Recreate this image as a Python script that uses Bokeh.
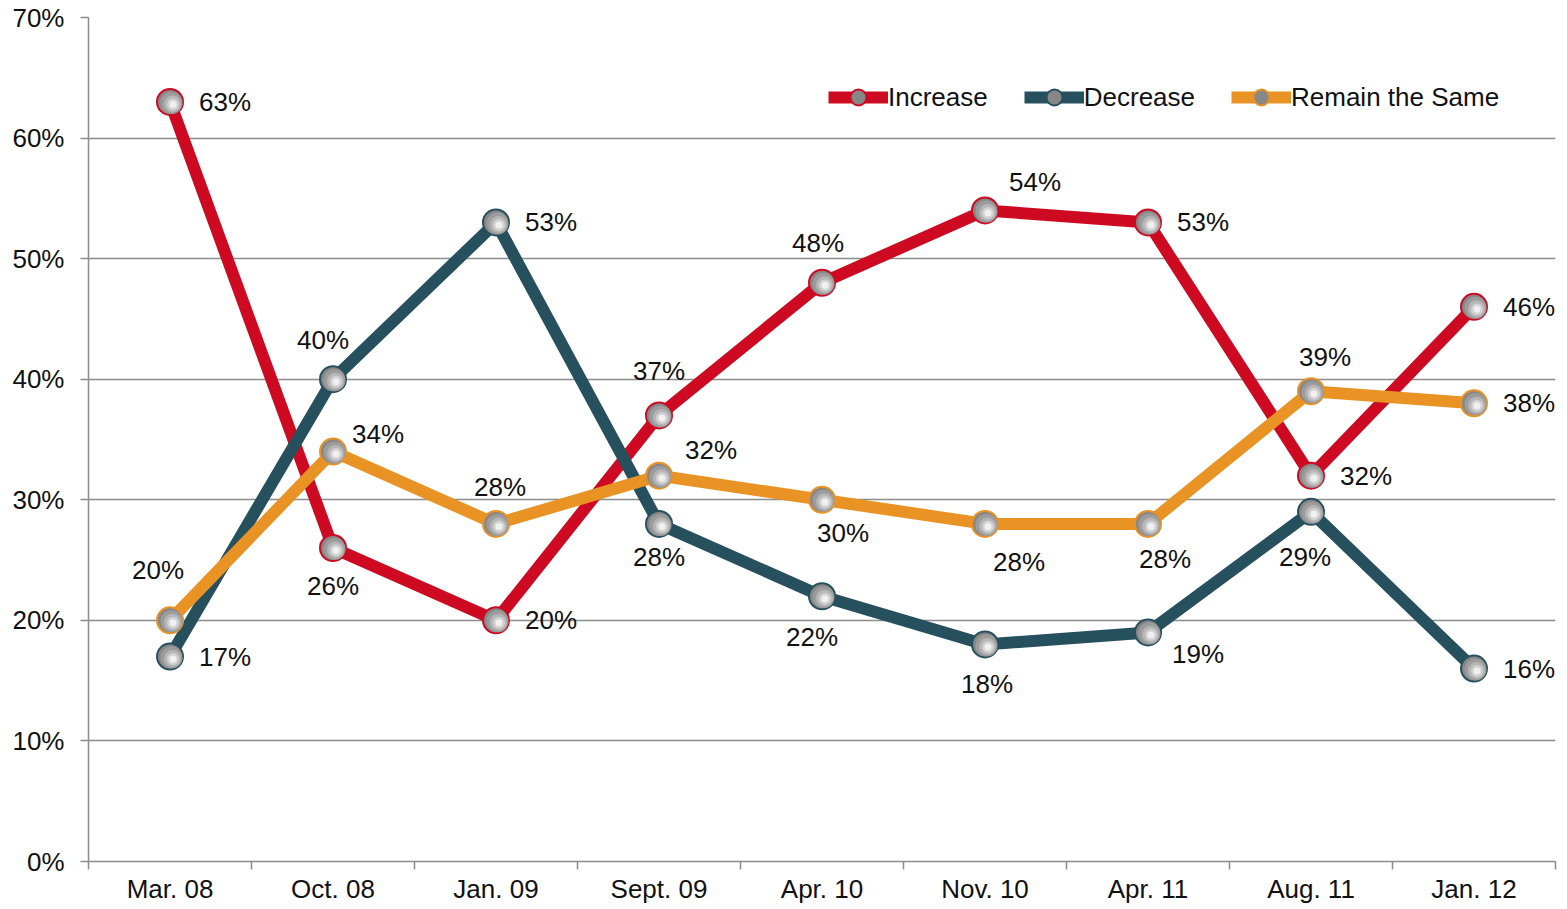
from bokeh.plotting import figure
from bokeh.models import (ColumnDataSource, FixedTicker, PrintfTickFormatter, Legend, LegendItem, Range1d)
from bokeh.transform import dodge
from bokeh.embed import file_html
from bokeh.resources import INLINE
from bokeh.core.properties import value

categories = ["Mar. 08", "Oct. 08", "Jan. 09", "Sept. 09", "Apr. 10", "Nov. 10", "Apr. 11", "Aug. 11", "Jan. 12"]
increase = [63, 26, 20, 37, 48, 54, 53, 32, 46]
decrease = [17, 40, 53, 28, 22, 18, 19, 29, 16]
remain = [20, 34, 28, 32, 30, 28, 28, 39, 38]
y_ticks = [0, 10, 20, 30, 40, 50, 60, 70]

series_names = ["Increase", "Decrease", "Remain the Same"]
series_values = [increase, decrease, remain]
colors = ["#CE0A22", "#27505F", "#E99325"]

# label offsets in screen px (dx, dy) per point
label_offsets = [
    [(55, 0), (0, 38), (55, 0), (0, -44), (-4, -40), (50, -28), (55, 0), (55, 0), (55, 0)],
    [(55, 0), (-10, -39), (55, 0), (0, 33), (-10, 41), (2, 40), (50, 22), (-6, 45), (55, 0)],
    [(-12, -50), (45, -18), (4, -37), (52, -26), (21, 33), (34, 38), (17, 35), (14, -34), (55, 0)],
]

FONT = "Liberation Sans"
FS = "26px"

BL, BR, BT, BB = 88, 4, 17, 44
W, H = 1559, 906
p = figure(width=W, height=H, output_backend="svg", toolbar_location=None,
           x_range=Range1d(0, len(categories)), y_range=Range1d(0, 70),
           min_border_left=BL, min_border_right=BR, min_border_top=BT, min_border_bottom=BB)
p.outline_line_color = None
p.background_fill_color = "white"
p.border_fill_color = "white"

frame_w = W - BL - BR
frame_h = H - BT - BB
px_x = len(categories) / frame_w
px_y = 70 / frame_h

xs = [i + 0.5 for i in range(len(categories))]

# axes
p.xaxis.ticker = FixedTicker(ticks=xs, minor_ticks=list(range(len(categories) + 1)))
p.xaxis.major_label_overrides = {x: c for x, c in zip(xs, categories)}
p.xaxis.major_tick_line_color = None
p.xaxis.major_tick_out = 0
p.xaxis.major_tick_in = 0
p.xaxis.minor_tick_out = 8
p.xaxis.minor_tick_in = 0
p.xaxis.minor_tick_line_color = "#8c8c8c"
p.xaxis.minor_tick_line_width = 1.5
p.xaxis.axis_line_color = "#8c8c8c"
p.xaxis.axis_line_width = 1.5
p.xaxis.major_label_standoff = 4
p.xaxis.major_label_text_font = FONT
p.xaxis.major_label_text_font_size = FS
p.xaxis.major_label_text_color = "#111111"

p.yaxis.ticker = FixedTicker(ticks=y_ticks)
p.yaxis.formatter = PrintfTickFormatter(format="%d%%")
p.yaxis.major_tick_out = 8
p.yaxis.major_tick_in = 0
p.yaxis.minor_tick_line_color = None
p.yaxis.major_tick_line_color = "#8c8c8c"
p.yaxis.major_tick_line_width = 1.5
p.yaxis.axis_line_color = "#8c8c8c"
p.yaxis.axis_line_width = 1.5
p.yaxis.major_label_standoff = 16
p.yaxis.major_label_text_font = FONT
p.yaxis.major_label_text_font_size = FS
p.yaxis.major_label_text_color = "#111111"

p.xgrid.grid_line_color = None
p.ygrid.grid_line_color = "#8c8c8c"
p.ygrid.grid_line_width = 1.5

legend_items = []
line_renderers = []
for name, vals, col in zip(series_names, series_values, colors):
    src = ColumnDataSource(dict(x=xs, y=vals))
    lr = p.line("x", "y", source=src, line_color=col, line_width=12, line_join="round")
    line_renderers.append((name, col, src, lr))

for name, col, src, lr in line_renderers:
    base = p.scatter("x", "y", source=src, size=26, fill_color="#878787", line_color=col, line_width=2)
    layers = [(22, "#9c9c9c", 1.5, 1.0), (17, "#b6b6b6", 2.5, 2.0), (12, "#d2d2d2", 3.0, 2.5), (7, "#f0f0f0", 3.0, 2.5)]
    for sz, fc, dx, dy in layers:
        p.scatter(x=dodge("x", dx * px_x), y=dodge("y", -dy * px_y), source=src,
                  size=sz, fill_color=fc, line_color=None)
    legend_items.append(LegendItem(label=name, renderers=[lr, base]))

for vals, offs in zip(series_values, label_offsets):
    src = ColumnDataSource(dict(x=xs, y=vals, t=[f"{v}%" for v in vals],
                                dx=[o[0] for o in offs], dy=[o[1] for o in offs]))
    p.text("x", "y", text="t", source=src, x_offset="dx", y_offset="dy",
           text_align="center", text_baseline="middle",
           text_font=value(FONT), text_font_size=FS, text_color="#111111")

legend = Legend(items=legend_items, orientation="horizontal", location=(740, 744),
                glyph_width=60, glyph_height=40, label_standoff=0, spacing=36,
                padding=0, margin=0, border_line_color=None, background_fill_alpha=0,
                label_text_font=FONT, label_text_font_size=FS, label_text_color="#111111")
p.add_layout(legend)

open("out.html", "w").write(file_html(p, INLINE))
